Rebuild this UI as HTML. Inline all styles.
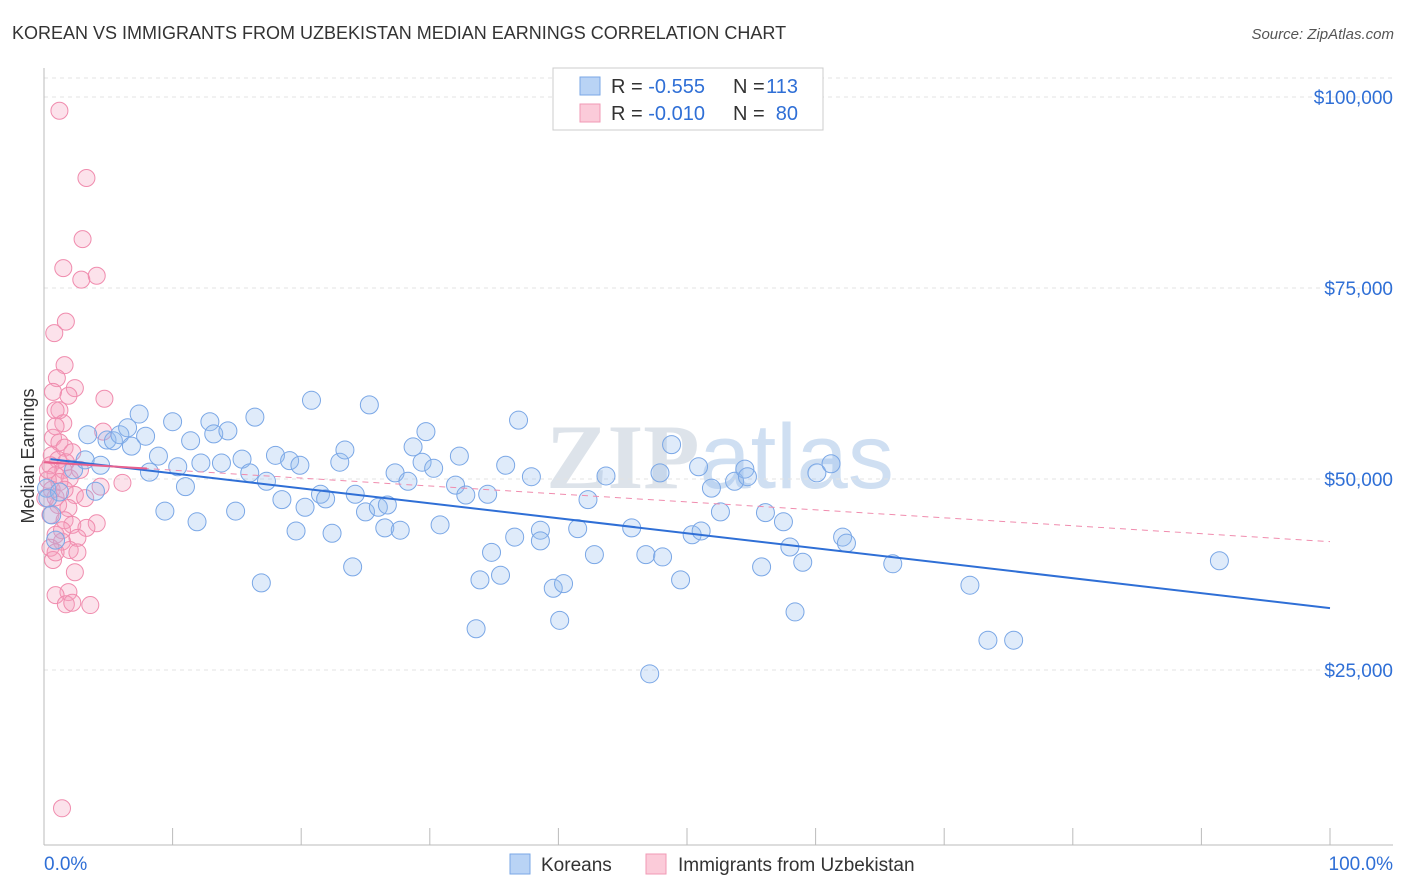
<!DOCTYPE html>
<html><head><meta charset="utf-8"><style>
body{margin:0;background:#fff;font-family:"Liberation Sans",sans-serif;}
svg{display:block}
</style></head><body>
<svg id="chart" width="1406" height="892">
<text x="12" y="39" font-size="18" fill="#333">KOREAN VS IMMIGRANTS FROM UZBEKISTAN MEDIAN EARNINGS CORRELATION CHART</text>
<text x="1394" y="39" font-size="15" fill="#555" font-style="italic" text-anchor="end">Source: ZipAtlas.com</text>
<text x="720" y="488" font-size="92" fill="#dde3ea" text-anchor="middle" font-family="Liberation Serif,serif" font-weight="bold">ZIP<tspan fill="#cfdff2" font-family="Liberation Sans,sans-serif" font-weight="normal">atlas</tspan></text>
<text transform="translate(34,456) rotate(-90)" font-size="18" fill="#333" text-anchor="middle">Median Earnings</text>
<g id="grid"></g><g id="axes"></g><g id="marks"></g>
<g>
<rect x="553" y="68" width="270" height="62" fill="#fff" stroke="#ccc"/>
<rect x="580" y="77" width="20" height="18" fill="#b9d3f5" stroke="#7aa7e6"/>
<rect x="580" y="104" width="20" height="18" fill="#fbcbd9" stroke="#f09ab5"/>
<text x="611" y="93" font-size="20" fill="#333">R = <tspan fill="#2f6fd6">-0.555</tspan></text>
<text x="733" y="93" font-size="20" fill="#333">N =</text>
<text x="798" y="93" font-size="20" fill="#2f6fd6" text-anchor="end">113</text>
<text x="611" y="120" font-size="20" fill="#333">R = <tspan fill="#2f6fd6">-0.010</tspan></text>
<text x="733" y="120" font-size="20" fill="#333">N =</text>
<text x="798" y="120" font-size="20" fill="#2f6fd6" text-anchor="end">80</text>
</g>
<g>
<rect x="510" y="854" width="20" height="20" fill="#b9d3f5" stroke="#7aa7e6"/>
<text x="541" y="871" font-size="19" fill="#333">Koreans</text>
<rect x="646" y="854" width="20" height="20" fill="#fbcbd9" stroke="#f09ab5"/>
<text x="678" y="871" font-size="19" fill="#333">Immigrants from Uzbekistan</text>
</g>
</svg>
<script>
const yTicks=[25000,50000,75000,100000];
const yTickLabels=["$25,000","$50,000","$75,000","$100,000"];
const xTicks=[0,10,20,30,40,50,60,70,80,90,100];
const koreanPct=[3.4,4.4,4.9,5.4,5.9,6.5,6.8,7.4,7.9,8.2,8.9,9.4,10.0,10.4,11.0,11.4,11.9,12.2,12.9,13.2,13.8,14.3,14.9,15.4,16.0,16.4,16.9,17.3,18.0,18.5,19.1,19.6,19.9,20.3,20.8,21.5,21.9,22.4,23.0,23.4,24.0,24.2,25.0,25.3,26.0,26.5,26.7,27.7,27.3,28.3,28.7,29.4,29.7,30.3,30.8,32.0,32.3,32.8,33.6,33.9,34.5,34.8,35.5,35.9,36.6,36.9,37.9,38.6,38.6,39.6,40.1,40.4,41.5,42.3,42.8,43.7,45.7,46.8,47.1,47.9,48.1,48.8,49.5,50.9,50.4,51.1,51.9,52.6,53.7,54.5,54.7,55.8,56.1,57.5,58.0,58.4,59.0,60.1,61.2,62.1,62.4,66.0,72.0,73.4,75.4,91.4,0.2,1.2,2.3,3.2,4.0,0.9,0.6,0.3];
const koreanVal=[55.8,51.8,55.1,55.0,55.8,56.7,54.3,58.5,55.6,50.9,53.0,45.8,57.5,51.6,49.0,55.0,44.4,52.1,57.5,55.9,52.1,56.3,45.8,52.6,50.8,58.1,36.4,49.7,53.1,47.3,52.4,43.2,51.8,46.3,60.3,48.0,47.4,42.9,52.2,53.8,38.5,48.0,45.7,59.7,46.3,43.6,46.6,43.3,50.8,49.7,54.2,52.2,56.2,51.4,44.0,49.2,53.0,47.9,30.4,36.8,48.0,40.4,37.4,51.8,42.4,57.7,50.3,43.3,41.9,35.7,31.5,36.3,43.5,47.3,40.1,50.4,43.6,40.1,24.5,50.8,39.8,54.5,36.8,51.6,42.7,43.2,48.8,45.7,49.7,51.3,50.3,38.5,45.6,44.4,41.1,32.6,39.1,50.8,52.0,42.4,41.6,38.9,36.1,28.9,28.9,39.3,48.8,48.3,51.2,52.5,48.4,42.0,45.3,47.5];
const uzPct=[1.2,3.3,3.0,1.5,2.9,4.1,1.7,0.8,1.6,1.0,2.4,1.9,0.7,1.2,0.9,4.7,1.5,0.7,1.2,1.6,2.2,0.6,1.1,1.7,0.5,1.5,0.9,2.0,0.3,1.2,0.6,2.4,3.2,1.1,1.9,0.5,1.6,2.2,4.1,3.3,0.9,2.6,1.4,0.5,2.0,2.6,0.7,2.4,1.9,0.9,1.7,2.2,3.6,1.4,6.1,4.4,4.6,0.3,0.9,2.8,1.4,0.9,0.1,0.9,1.6];
const uzVal=[98.2,89.4,81.4,77.6,76.1,76.6,70.6,69.1,64.9,63.2,61.9,60.9,61.4,59.0,59.0,60.5,57.3,55.4,54.8,54.1,53.5,53.1,52.5,52.2,51.8,51.2,50.5,50.1,49.9,49.6,48.6,47.9,47.5,46.6,46.2,45.3,44.6,44.0,44.2,43.6,42.7,42.3,41.8,41.0,40.7,40.4,39.4,37.8,35.2,34.8,33.6,33.8,33.5,6.9,49.5,49.0,56.2,51.2,56.9,51.2,43.3,40.4,47.5,47.6,48.6];
const koreanTrend=[52.6,33.1];
const uzTrend=[52.2,41.8];
const NS="http://www.w3.org/2000/svg";
const X=p=>44+p*12.86, Y=v=>861-v*191/25000;
function mk(tag,attrs,parent){const e=document.createElementNS(NS,tag);for(const k in attrs)e.setAttribute(k,attrs[k]);parent.appendChild(e);return e;}
const grid=document.getElementById('grid'),axes=document.getElementById('axes'),marks=document.getElementById('marks');
const gridTop=mk('line',{x1:44,x2:1393,y1:78,y2:78,stroke:'#e3e3e3','stroke-dasharray':'4,4'},grid);


yTicks.forEach((t,i)=>{
 const l=mk('line',{x1:44,x2:1393,y1:Y(t),y2:Y(t),stroke:'#e3e3e3','stroke-dasharray':'4,4'},grid);
 
 
 const tx=mk('text',{x:1393,y:Y(t)+7,'font-size':19,fill:'#2f6fd6','text-anchor':'end'},axes);
 tx.textContent=yTickLabels[i];
 
 
});
const ya=mk('line',{x1:44,x2:44,y1:68,y2:845,stroke:'#bbb'},axes);


const xa=mk('line',{x1:44,x2:1393,y1:845,y2:845,stroke:'#bbb'},axes);


xTicks.forEach(t=>{
 const l=mk('line',{x1:X(t),x2:X(t),y1:828,y2:845,stroke:'#bbb'},axes);
 
 
});
const xl0=mk('text',{x:44,y:870,'font-size':19,fill:'#2f6fd6'},axes);xl0.textContent='0.0%';


const xl1=mk('text',{x:1393,y:870,'font-size':19,fill:'#2f6fd6','text-anchor':'end'},axes);xl1.textContent='100.0%';


uzPct.forEach((p,i)=>{
 const c=mk('circle',{cx:X(p),cy:Y(uzVal[i]*1000),r:8.5,fill:'rgba(246,160,188,0.3)',stroke:'#f08cae','stroke-width':1},marks);
 
 
});
koreanPct.forEach((p,i)=>{
 const c=mk('circle',{cx:X(p),cy:Y(koreanVal[i]*1000),r:9,fill:'rgba(150,190,240,0.3)',stroke:'#7aa7e6','stroke-width':1},marks);
 
 
});
const kt=mk('line',{x1:X(0.5),y1:Y(koreanTrend[0]*1000),x2:X(100),y2:Y(koreanTrend[1]*1000),stroke:'#2f6fd6','stroke-width':2},marks);


const ut=mk('line',{x1:X(0),y1:Y(uzTrend[0]*1000),x2:X(100),y2:Y(uzTrend[1]*1000),stroke:'#f08cae','stroke-width':1,'stroke-dasharray':'6,5'},marks);


const v8=uzTrend[0]+(uzTrend[1]-uzTrend[0])*0.08;
const us=mk('line',{x1:X(0),y1:Y(uzTrend[0]*1000),x2:X(8),y2:Y(v8*1000),stroke:'#e8608e','stroke-width':2},marks);


</script>
</body></html>
